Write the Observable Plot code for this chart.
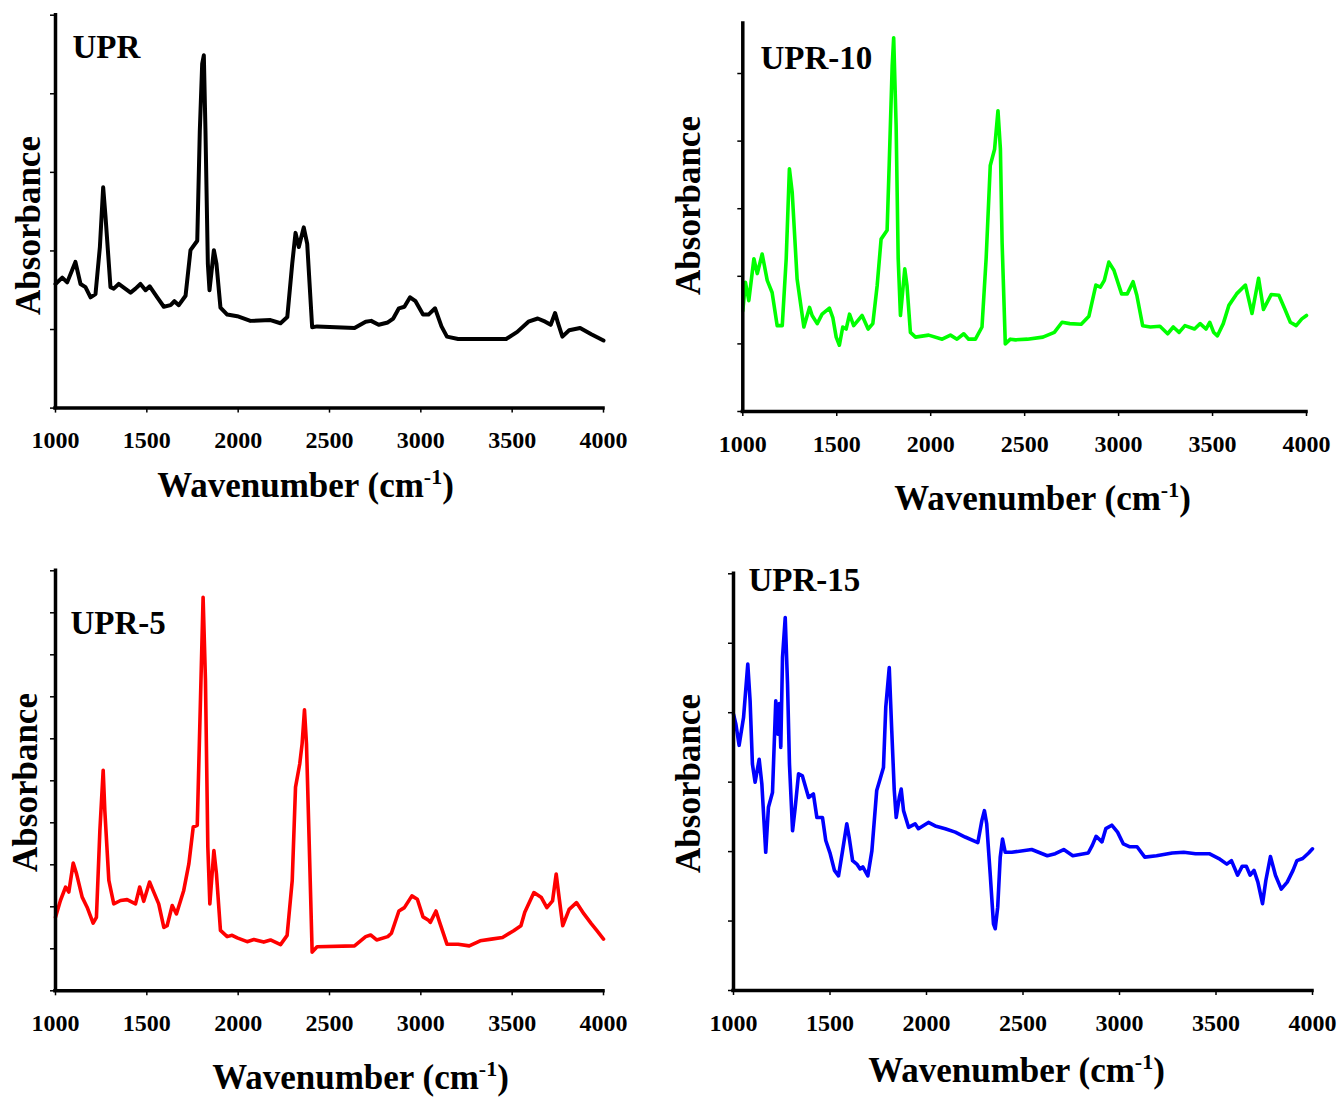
<!DOCTYPE html>
<html>
<head>
<meta charset="utf-8">
<script src="https://cdn.jsdelivr.net/npm/d3@7"></script>
<script src="https://cdn.jsdelivr.net/npm/@observablehq/plot@0.6"></script>
<style>
  body { margin: 0; background: #fff; }
  #fig { position: relative; width: 1339px; height: 1098px; overflow: hidden; background: #fff; }
  #fig svg { position: absolute; }
</style>
</head>
<body>
<div id="fig"></div>
<script>
// ---------- data ----------
const xTicks = [1000, 1500, 2000, 2500, 3000, 3500, 4000];
const panelNames = ["UPR", "UPR-10", "UPR-5", "UPR-15"];
const panelColors = ["#000000", "#00ff00", "#ff0000", "#0000ff"];
const xTitle = "Wavenumber (cm-1)";
const yTitle = "Absorbance";

// [wavenumber, absorbance (arbitrary units, one unit per y tick)]
const uprSpectrum = [
  [1000,1.58],[1037,1.66],[1064,1.60],[1109,1.86],[1137,1.58],[1164,1.54],[1192,1.41],[1219,1.45],
  [1243,2.05],[1261,2.81],[1274,2.43],[1301,1.54],[1319,1.52],[1346,1.58],[1411,1.47],[1438,1.52],
  [1465,1.58],[1493,1.50],[1516,1.55],[1557,1.41],[1593,1.29],[1630,1.31],[1651,1.36],[1675,1.31],
  [1712,1.43],[1739,2.01],[1776,2.13],[1790,3.53],[1803,4.38],[1812,4.49],[1821,3.53],[1834,1.84],
  [1843,1.50],[1867,2.01],[1881,1.84],[1903,1.28],[1940,1.19],[1995,1.17],[2067,1.11],[2177,1.12],
  [2232,1.08],[2269,1.16],[2296,1.84],[2314,2.23],[2332,2.05],[2359,2.30],[2378,2.09],[2405,1.03],
  [2432,1.04],[2637,1.02],[2698,1.10],[2728,1.11],[2769,1.06],[2819,1.09],[2849,1.14],[2880,1.27],
  [2910,1.29],[2941,1.41],[2971,1.36],[3012,1.19],[3042,1.19],[3078,1.27],[3113,1.04],[3143,0.91],
  [3204,0.88],[3467,0.88],[3528,0.97],[3589,1.10],[3640,1.14],[3681,1.10],[3711,1.06],[3735,1.21],
  [3751,1.08],[3775,0.91],[3812,0.99],[3872,1.02],[3933,0.94],[4000,0.86]
];
const upr10Spectrum = [
  [1000,1.49],[1014,1.91],[1032,1.64],[1059,2.26],[1077,2.04],[1103,2.33],[1130,1.94],[1156,1.76],
  [1183,1.27],[1210,1.27],[1231,2.26],[1248,3.59],[1263,3.24],[1289,1.96],[1325,1.25],[1355,1.54],
  [1369,1.42],[1396,1.30],[1422,1.44],[1461,1.53],[1479,1.39],[1497,1.10],[1514,0.98],[1532,1.25],
  [1550,1.22],[1568,1.44],[1590,1.27],[1635,1.42],[1667,1.22],[1692,1.30],[1715,1.86],[1736,2.55],
  [1768,2.68],[1780,3.73],[1795,5.11],[1803,5.53],[1816,4.23],[1827,2.26],[1839,1.42],[1862,2.11],
  [1874,1.86],[1892,1.17],[1919,1.10],[1989,1.13],[2061,1.07],[2105,1.13],[2140,1.07],[2176,1.15],
  [2202,1.07],[2238,1.07],[2273,1.25],[2295,2.26],[2317,3.64],[2340,3.88],[2358,4.45],[2371,3.88],
  [2380,2.50],[2397,1.00],[2424,1.07],[2451,1.06],[2515,1.07],[2597,1.10],[2658,1.17],[2699,1.32],
  [2740,1.30],[2801,1.29],[2842,1.41],[2879,1.87],[2903,1.84],[2924,1.94],[2948,2.21],[2975,2.09],
  [3016,1.74],[3046,1.74],[3077,1.92],[3097,1.72],[3128,1.27],[3169,1.25],[3220,1.26],[3261,1.15],
  [3291,1.25],[3322,1.17],[3353,1.27],[3404,1.22],[3434,1.30],[3465,1.22],[3485,1.32],[3506,1.17],
  [3526,1.12],[3557,1.30],[3587,1.57],[3628,1.74],[3675,1.87],[3710,1.45],[3745,1.97],[3771,1.51],
  [3812,1.73],[3853,1.72],[3884,1.52],[3914,1.32],[3945,1.27],[3975,1.37],[4000,1.42]
];
const upr5Spectrum = [
  [1000,1.75],[1027,2.15],[1055,2.47],[1073,2.35],[1097,3.04],[1115,2.79],[1146,2.23],[1173,1.99],
  [1206,1.61],[1224,1.75],[1243,3.82],[1261,5.25],[1270,4.29],[1292,2.63],[1319,2.07],[1356,2.15],
  [1392,2.17],[1438,2.07],[1461,2.47],[1483,2.13],[1515,2.59],[1538,2.35],[1565,2.07],[1593,1.51],
  [1611,1.55],[1639,2.03],[1662,1.83],[1702,2.39],[1730,3.02],[1754,3.90],[1776,3.94],[1794,6.99],
  [1808,9.37],[1821,7.39],[1834,3.42],[1845,2.07],[1867,3.34],[1881,2.79],[1903,1.44],[1940,1.29],
  [1967,1.32],[1995,1.26],[2049,1.17],[2086,1.22],[2140,1.16],[2177,1.21],[2232,1.10],[2268,1.32],
  [2296,2.63],[2314,4.85],[2337,5.40],[2350,5.88],[2363,6.69],[2374,5.88],[2387,3.82],[2405,0.92],
  [2432,1.05],[2637,1.07],[2698,1.29],[2725,1.33],[2758,1.21],[2819,1.29],[2839,1.37],[2880,1.90],
  [2910,1.98],[2951,2.26],[2981,2.18],[3012,1.76],[3042,1.68],[3052,1.63],[3083,1.90],[3103,1.63],
  [3143,1.11],[3204,1.11],[3265,1.07],[3325,1.19],[3386,1.23],[3447,1.27],[3508,1.43],[3548,1.55],
  [3569,1.87],[3619,2.34],[3660,2.22],[3690,1.98],[3721,2.14],[3741,2.78],[3757,2.22],[3777,1.55],
  [3812,1.94],[3852,2.10],[3893,1.83],[3933,1.60],[3964,1.43],[4000,1.23]
];
const upr15Spectrum = [
  [1000,3.98],[1012,3.84],[1029,3.53],[1052,3.93],[1074,4.70],[1086,4.17],[1098,3.26],[1112,3.00],
  [1133,3.33],[1147,2.97],[1167,1.99],[1181,2.64],[1202,2.85],[1219,4.17],[1230,3.69],[1237,4.13],
  [1245,3.50],[1254,4.80],[1268,5.37],[1280,4.41],[1290,3.26],[1306,2.30],[1320,2.64],[1337,3.12],
  [1357,3.09],[1389,2.78],[1414,2.83],[1432,2.49],[1461,2.49],[1478,2.16],[1501,1.97],[1523,1.73],
  [1544,1.65],[1565,2.01],[1587,2.40],[1599,2.21],[1617,1.87],[1639,1.82],[1656,1.75],[1670,1.78],
  [1696,1.65],[1717,2.01],[1742,2.88],[1760,3.05],[1777,3.21],[1789,4.08],[1807,4.65],[1820,3.74],
  [1833,2.88],[1843,2.49],[1859,2.78],[1869,2.90],[1881,2.59],[1907,2.35],[1941,2.40],[1958,2.33],
  [2010,2.42],[2045,2.37],[2097,2.33],[2149,2.28],[2200,2.21],[2266,2.13],[2287,2.45],[2300,2.59],
  [2312,2.40],[2330,1.68],[2347,0.96],[2356,0.89],[2369,1.20],[2382,1.92],[2394,2.18],[2408,1.99],
  [2442,1.99],[2545,2.03],[2626,1.94],[2667,1.97],[2711,2.03],[2758,1.94],[2838,1.98],[2859,2.09],
  [2879,2.22],[2909,2.14],[2929,2.33],[2960,2.38],[2990,2.28],[3020,2.11],[3051,2.07],[3091,2.07],
  [3131,1.92],[3192,1.94],[3273,1.98],[3333,1.99],[3394,1.97],[3465,1.97],[3515,1.90],[3556,1.82],
  [3580,1.87],[3612,1.66],[3636,1.79],[3657,1.79],[3677,1.66],[3697,1.73],[3717,1.56],[3741,1.25],
  [3758,1.58],[3782,1.93],[3808,1.66],[3838,1.46],[3869,1.56],[3899,1.73],[3919,1.87],[3949,1.90],
  [3980,1.98],[4000,2.04]
];
const yTicksUPR = [0, 1, 2, 3, 4, 5];
const yTicksUPR10 = [0, 1, 2, 3, 4, 5];
const yTicksUPR5 = [0, 1, 2, 3, 4, 5, 6, 7, 8, 9, 10];
const yTicksUPR15 = [0, 1, 2, 3, 4, 5, 6];

// ---------- drawing ----------
const FONT = "'Liberation Serif', 'Times New Roman', Times, serif";
const fig = document.getElementById("fig");

function panel(cfg) {
  const {data, name, color, yMax, yTicks, box, frame, lineWidth, nameAt, yTitleAt, xTitleAt} = cfg;
  const ml = frame.x0 - box.left, mr = box.left + box.width - frame.x1;
  const mt = frame.y0 - box.top, mb = box.top + box.height - frame.y1;
  const rows = data.map(([x, y]) => ({x, y}));
  const rel = ([ax, ay]) => ({dx: ax - frame.x0, dy: ay - frame.y0});
  const plot = Plot.plot({
    width: box.width, height: box.height,
    marginLeft: ml, marginRight: mr, marginTop: mt, marginBottom: mb,
    x: {domain: [1000, 4000]},
    y: {domain: [0, yMax]},
    style: {fontFamily: FONT, fontWeight: "bold", background: "transparent", color: "#000", overflow: "visible"},
    marks: [
      Plot.axisX(xTicks, {tickSize: 5, tickPadding: 18, fontSize: 24, tickFormat: d3.format("d"), label: null, strokeWidth: 1.5}),
      Plot.axisY(yTicks, {tickSize: 5, tickFormat: () => "", label: null, strokeWidth: 1.5}),
      Plot.line(rows, {x: "x", y: "y", stroke: color, strokeWidth: lineWidth, strokeLinejoin: "round", strokeLinecap: "round"}),
      Plot.ruleY([0], {stroke: "#000", strokeWidth: 3.5, strokeLinecap: "square"}),
      Plot.ruleX([1000], {stroke: "#000", strokeWidth: 3.5, strokeLinecap: "square"}),
      Plot.text([name], {text: d => d, frameAnchor: "top-left", textAnchor: "start", lineAnchor: "middle",
        fontSize: 33, fontWeight: "bold", fill: "#000", ...rel(nameAt)}),
      Plot.text([yTitle], {text: d => d, frameAnchor: "top-left", textAnchor: "middle", lineAnchor: "middle",
        rotate: -90, fontSize: 35, fontWeight: "bold", fill: "#000", ...rel(yTitleAt)}),
      Plot.text([xTitle], {text: d => d, frameAnchor: "top-left", textAnchor: "middle", lineAnchor: "middle",
        fontSize: 35, fontWeight: "bold", fill: "#000", ...rel(xTitleAt)})
    ]
  });
  // superscript for cm-1
  d3.select(plot).selectAll("text").filter(function () { return this.textContent === xTitle; })
    .each(function () {
      const el = d3.select(this);
      el.text(null);
      el.append("tspan").text("Wavenumber (cm");
      el.append("tspan").attr("dy", "-13").attr("font-size", "22").text("-1");
      el.append("tspan").attr("dy", "13").text(")");
    });
  plot.style.left = box.left + "px";
  plot.style.top = box.top + "px";
  fig.appendChild(plot);
}

panel({
  data: uprSpectrum, name: panelNames[0], color: panelColors[0], yMax: 5, yTicks: yTicksUPR, lineWidth: 4,
  box: {left: 0, top: 0, width: 660, height: 540},
  frame: {x0: 55, x1: 603, y0: 14.7, y1: 407.6},
  nameAt: [72, 47], yTitleAt: [28, 225], xTitleAt: [305, 485]
});
panel({
  data: upr10Spectrum, name: panelNames[1], color: panelColors[1], yMax: 5.74, yTicks: yTicksUPR10, lineWidth: 3.6,
  box: {left: 660, top: 0, width: 679, height: 540},
  frame: {x0: 742.3, x1: 1306, y0: 23, y1: 411},
  nameAt: [760, 58], yTitleAt: [688, 205], xTitleAt: [1042, 498]
});
panel({
  data: upr5Spectrum, name: panelNames[2], color: panelColors[2], yMax: 10, yTicks: yTicksUPR5, lineWidth: 3.6,
  box: {left: 0, top: 540, width: 660, height: 558},
  frame: {x0: 55, x1: 603, y0: 570.3, y1: 990.3},
  nameAt: [70, 623], yTitleAt: [25, 782], xTitleAt: [360, 1077]
});
panel({
  data: upr15Spectrum, name: panelNames[3], color: panelColors[3], yMax: 6, yTicks: yTicksUPR15, lineWidth: 3.6,
  box: {left: 660, top: 540, width: 679, height: 558},
  frame: {x0: 733, x1: 1312, y0: 573.3, y1: 990},
  nameAt: [748, 580], yTitleAt: [688, 783], xTitleAt: [1016, 1070]
});
</script>
</body>
</html>
